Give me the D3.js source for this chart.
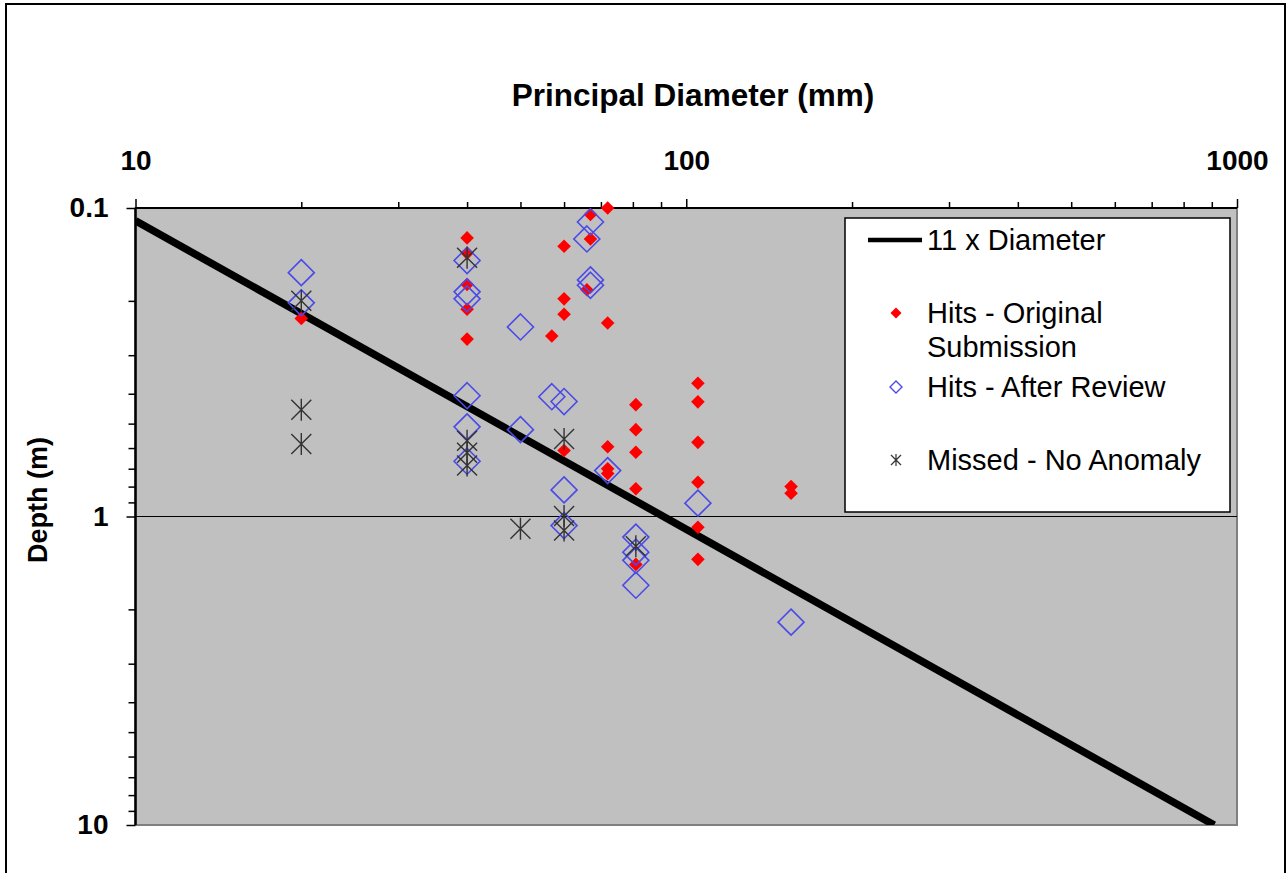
<!DOCTYPE html>
<html><head><meta charset="utf-8">
<script src="https://cdn.jsdelivr.net/npm/d3@7"></script>
<style>
html,body{margin:0;padding:0;background:#fff;}
svg{display:block;font-family:"Liberation Sans",Arial,sans-serif;}
</style></head>
<body>
<svg id="chart" width="1288" height="873"></svg>
<script>
// ---- data ----
const xMajorTicks = [10, 100, 1000];
const yMajorTicks = [0.1, 1, 10];
const xTitle = "Principal Diameter (mm)";
const yTitle = "Depth (m)";

const lineDiameter = [10, 909];
const lineDepth = [0.11, 10];

const hitsOrigDiameter = [20, 40,40,40,40,40, 57, 60,60,60,60, 66, 67,67, 72,72,72,72,72, 81,81,81,81,81, 105,105,105,105,105,105, 155,155];
const hitsOrigDepth = [0.228, 0.125,0.140,0.177,0.213,0.266, 0.26, 0.133,0.197,0.221,0.611, 0.184, 0.105,0.126, 0.100,0.236,0.594,0.70,0.726, 0.434,0.523,0.619,0.813,1.43, 0.37,0.425,0.575,0.774,1.083,1.377, 0.80,0.841];

const hitsReviewDiameter = [20,20, 40,40,40,40,40,40, 50,50, 57, 60,60,60, 66, 67,67,67, 72, 81,81,81,81, 105, 155];
const hitsReviewDepth = [0.162,0.203, 0.148,0.187,0.197,0.406,0.512,0.662, 0.243,0.523, 0.409, 0.424,0.82,1.07, 0.126, 0.111,0.171,0.178, 0.71, 1.166,1.305,1.387,1.67, 0.905, 2.2];

const missedDiameter = [20,20,20, 40,40,40,40, 50, 60,60,60, 81];
const missedDepth = [0.2,0.451,0.582, 0.145,0.568,0.621,0.684, 1.096, 0.561,0.997,1.11, 1.248];

const legendLabels = ["11 x Diameter", ["Hits - Original", "Submission"], "Hits - After Review", "Missed - No Anomaly"];

// ---- layout ----
const svg = d3.select("#chart");
const X0 = 135.5, X1 = 1237, Y0 = 208, Y1 = 825;

svg.append("rect").attr("x",6).attr("y",4).attr("width",1279).attr("height",900)
  .attr("fill","#fff").attr("stroke","#000").attr("stroke-width",2);

const x = d3.scaleLog().domain([10,1000]).range([X0,X1]);
const y = d3.scaleLog().domain([0.1,10]).range([Y0,Y1]);

// plot area
svg.append("rect").attr("x",X0).attr("y",Y0).attr("width",X1-X0).attr("height",Y1-Y0)
  .attr("fill","#c0c0c0").attr("stroke","#808080").attr("stroke-width",2);

// gridline at 1
svg.append("line").attr("x1",X0).attr("x2",X1).attr("y1",y(1)).attr("y2",y(1))
  .attr("stroke","#000").attr("stroke-width",1.2);

// minor tick values
const minorX = [], minorY = [];
[10,100].forEach(b=>{for(let k=2;k<=9;k++) minorX.push(b*k);});
[0.1,1].forEach(b=>{for(let k=2;k<=9;k++) minorY.push(+(b*k).toFixed(2));});

// x axis (top)
const gxMinor = svg.append("g").attr("transform",`translate(0,${Y0})`)
  .call(d3.axisTop(x).tickValues(minorX).tickSize(6).tickFormat(""));
const gx = svg.append("g").attr("transform",`translate(0,${Y0})`)
  .call(d3.axisTop(x).tickValues(xMajorTicks).tickSize(9).tickPadding(29).tickFormat(d3.format("d")));
[gxMinor,gx].forEach(g=>{
  g.select(".domain").attr("stroke","#000").attr("stroke-width",2).attr("d",`M${X0},0H${X1}`);
  g.selectAll(".tick line").attr("stroke","#000").attr("stroke-width",1.5);
});
gx.selectAll(".tick text").attr("font-size",28).attr("font-weight","bold").attr("fill","#000")
  .attr("font-family","Liberation Sans, Arial, sans-serif");

// y axis (left)
const gyMinor = svg.append("g").attr("transform",`translate(${X0},0)`)
  .call(d3.axisLeft(y).tickValues(minorY).tickSize(7).tickFormat(""));
const gy = svg.append("g").attr("transform",`translate(${X0},0)`)
  .call(d3.axisLeft(y).tickValues(yMajorTicks).tickSize(9).tickPadding(18).tickFormat(d=>String(d)));
[gyMinor,gy].forEach(g=>{
  g.select(".domain").attr("stroke","#000").attr("stroke-width",2).attr("d",`M0,${Y0}V${Y1}`);
  g.selectAll(".tick line").attr("stroke","#000").attr("stroke-width",1.5);
});
gy.selectAll(".tick text").attr("font-size",28).attr("font-weight","bold").attr("fill","#000")
  .attr("font-family","Liberation Sans, Arial, sans-serif");

// titles
svg.append("text").attr("x",693).attr("y",106).attr("text-anchor","middle")
  .attr("font-size",31.5).attr("font-weight","bold").text(xTitle);
svg.append("text").attr("transform","translate(47,500) rotate(-90)").attr("text-anchor","middle")
  .attr("font-size",27).attr("font-weight","bold").text(yTitle);

// clip
svg.append("clipPath").attr("id","clip").append("rect")
  .attr("x",X0).attr("y",Y0).attr("width",X1-X0).attr("height",Y1-Y0);
const plot = svg.append("g").attr("clip-path","url(#clip)");

// 11x line
const lineData = lineDiameter.map((d,i)=>[d,lineDepth[i]]);
plot.append("path").datum(lineData)
  .attr("d", d3.line().x(d=>x(d[0])).y(d=>y(d[1])))
  .attr("stroke","#000").attr("stroke-width",7.5).attr("fill","none");

// markers
const diamond = (r)=>`M0,${-r}L${r},0L0,${r}L${-r},0Z`;
const star = (w,h)=>`M${-w},${-w}L${w},${w}M${-w},${w}L${w},${-w}M0,${-h}L0,${h}`;

const g2 = svg.append("g");
g2.selectAll("path.red").data(hitsOrigDiameter.map((d,i)=>[d,hitsOrigDepth[i]])).join("path")
  .attr("class","red").attr("transform",d=>`translate(${x(d[0])},${y(d[1])})`)
  .attr("d",diamond(6.8)).attr("fill","#ff0000");
g2.selectAll("path.blue").data(hitsReviewDiameter.map((d,i)=>[d,hitsReviewDepth[i]])).join("path")
  .attr("class","blue").attr("transform",d=>`translate(${x(d[0])},${y(d[1])})`)
  .attr("d",diamond(13)).attr("fill","none").attr("stroke","#4a4ae8").attr("stroke-width",1.6);
g2.selectAll("path.star").data(missedDiameter.map((d,i)=>[d,missedDepth[i]])).join("path")
  .attr("class","star").attr("transform",d=>`translate(${x(d[0])},${y(d[1])})`)
  .attr("d",star(10,11)).attr("fill","none").attr("stroke","#333").attr("stroke-width",1.4);

// legend
const lg = svg.append("g");
lg.append("rect").attr("x",845).attr("y",218).attr("width",385).attr("height",294)
  .attr("fill","#fff").attr("stroke","#000").attr("stroke-width",1.5);
lg.append("line").attr("x1",868).attr("x2",922).attr("y1",240).attr("y2",240)
  .attr("stroke","#000").attr("stroke-width",4.5);
lg.append("path").attr("transform","translate(896,313)").attr("d",diamond(5.5)).attr("fill","#ff0000");
lg.append("path").attr("transform","translate(896,387)").attr("d",diamond(6)).attr("fill","none")
  .attr("stroke","#4a4ae8").attr("stroke-width",1.4);
lg.append("path").attr("transform","translate(896,460)").attr("d",star(5,6)).attr("fill","none")
  .attr("stroke","#333").attr("stroke-width",1.2);
const legY = [240, [313,347], 387, 460];
legendLabels.forEach((lab,i)=>{
  const labs = Array.isArray(lab)?lab:[lab];
  const ys = Array.isArray(legY[i])?legY[i]:[legY[i]];
  labs.forEach((t,j)=>{
    lg.append("text").attr("x",927).attr("y",ys[j]).attr("dy","0.35em")
      .attr("font-size",29).attr("fill","#000").text(t);
  });
});
</script>
</body></html>
